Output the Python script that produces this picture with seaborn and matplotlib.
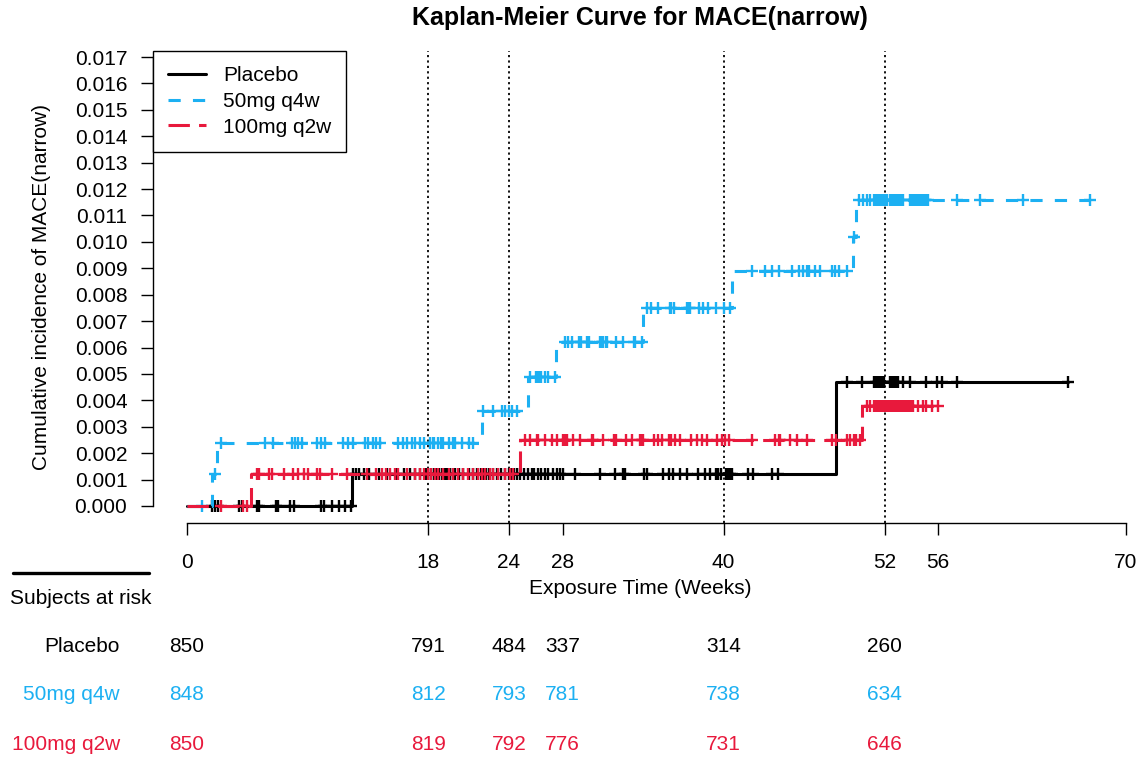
import numpy as np
import pandas as pd
import matplotlib
matplotlib.use("Agg")
import matplotlib.pyplot as plt
from matplotlib.lines import Line2D
import seaborn as sns

# ---------------- data ----------------
groups = ["Placebo", "50mg q4w", "100mg q2w"]

pbo_event_t = [12.3, 48.4]
pbo_level = [0.0012, 0.0047]
pbo_censor = [1.9, 2.1, 2.3, 3.9, 4.1, 5.2, 5.4, 6.6, 6.8, 7.7, 8.0, 10.0, 10.2, 10.8, 11.3, 11.8, 12.2,
              12.4, 12.6, 12.8, 13.2, 13.6, 14.3, 14.9, 15.6, 16.2, 16.6, 17.0, 17.4, 17.8, 18.0, 18.2,
              18.4, 18.6, 18.8, 19.0, 19.2, 19.4, 19.6, 19.8, 20.0, 20.3, 20.6, 21.0, 21.3, 21.6, 21.9,
              22.1, 22.3, 22.5, 22.8, 23.1, 23.4, 23.7, 24.0, 24.2, 24.4, 24.6, 24.8, 25.1, 25.4, 25.7,
              25.9, 26.2, 26.4, 26.7, 26.9, 27.3, 27.6, 27.8, 28.05, 28.9, 30.8, 31.9, 32.5, 32.65,
              34.1, 34.3, 35.5, 35.9, 36.25, 36.75, 37.25, 38.1, 38.6, 39.0, 39.4, 39.6, 39.8, 40.2,
              40.35, 40.5, 40.65, 41.8, 42.2, 43.6, 44.05,
              49.2, 50.3, 51.2, 51.35, 51.5, 51.65, 51.8, 51.95, 52.4, 52.55, 52.7, 52.85, 53.0,
              53.4, 53.9, 55.1, 55.9, 56.25, 57.4, 65.7]

q4w_event_t = [1.9, 2.25, 22.0, 25.4, 27.5, 34.0, 40.6, 49.65, 49.9]
q4w_level = [0.0012, 0.0024, 0.0036, 0.0049, 0.0062, 0.0075, 0.0089, 0.0102, 0.0116]
q4w_censor = [1.1, 2.1, 2.5, 5.8, 6.4, 7.8, 8.05, 8.3, 8.55, 9.7, 10.0, 10.3, 11.65, 12.0, 12.4,
              13.3, 13.5, 13.9, 14.1, 14.4, 15.75, 16.1, 16.4, 16.75, 17.0, 17.4, 17.7, 18.1, 18.3,
              18.4, 18.7, 18.9, 19.1, 19.5, 19.85, 20.0, 20.5, 21.0, 21.3, 22.1, 22.8, 23.5, 23.7,
              24.0, 24.2, 24.6, 25.6, 26.0, 26.1, 26.2, 26.3, 26.4, 26.7, 26.9, 27.4, 28.2, 28.4,
              28.7, 29.2, 29.3, 29.4, 29.8, 30.0, 30.8, 30.9, 31.0, 31.2, 31.3, 32.0, 32.5, 33.3,
              33.4, 33.9, 34.3, 34.6, 35.1, 36.0, 36.1, 36.3, 37.25, 37.4, 37.5, 38.2, 38.5, 38.8,
              39.4, 40.0, 40.5, 42.1, 43.1, 43.6, 44.1, 45.1, 45.6, 45.9, 46.2, 46.4, 46.8, 47.2,
              48.1, 48.3, 48.6, 49.2, 49.75, 50.1, 50.4, 50.7, 50.9, 51.2, 51.3, 51.4, 51.5, 51.6,
              51.7, 51.8, 51.9, 52.0, 52.1, 52.2, 52.4, 52.5, 52.6, 52.7, 52.8, 52.9, 53.0, 53.1,
              53.2, 53.4, 53.9, 54.0, 54.1, 54.2, 54.3, 54.4, 54.5, 54.6, 54.7, 54.8, 54.9, 55.0,
              55.1, 55.2, 57.4, 59.1, 62.3, 67.3]

q2w_event_t = [4.8, 24.85, 50.3]
q2w_level = [0.0012, 0.0025, 0.0038]
q2w_censor = [2.5, 4.2, 4.45, 5.2, 5.4, 6.1, 6.3, 7.2, 7.9, 8.3, 8.7, 9.0, 9.7, 9.9, 10.8, 11.9,
              13.4, 14.1, 14.5, 14.8, 15.1, 15.5, 15.75, 16.4, 17.0, 17.4, 17.7, 18.0, 18.2, 18.5,
              18.7, 19.1, 19.5, 19.85, 20.2, 20.6, 20.95, 21.3, 21.7, 21.97, 22.2, 22.6, 22.8, 23.2,
              23.7, 24.1, 24.3, 25.2, 25.6, 26.1, 26.2, 26.7, 27.2, 27.55, 28.05, 28.2, 28.3, 28.8,
              29.3, 30.2, 30.3, 31.0, 31.8, 32.0, 32.7, 33.2, 33.8, 33.9, 34.0, 34.8, 35.1, 35.4,
              35.9, 36.1, 36.4, 36.75, 37.6, 38.0, 38.4, 38.75, 39.5, 39.9, 40.1, 40.4, 42.1, 43.8,
              44.1, 44.2, 44.95, 45.5, 46.2, 48.1, 48.4, 49.2, 49.4, 49.7, 49.9, 50.15, 50.7, 50.9,
              51.2, 51.3, 51.4, 51.5, 51.6, 51.7, 51.8, 51.9, 52.0, 52.1, 52.2, 52.3, 52.4, 52.5,
              52.6, 52.7, 52.8, 52.9, 53.0, 53.1, 53.2, 53.3, 53.4, 53.5, 53.6, 53.7, 53.8, 53.9,
              54.0, 54.1, 54.5, 54.9, 55.1, 55.5, 56.0]

risk_times = [0, 18, 24, 28, 40, 52]
pbo_risk = [850, 791, 484, 337, 314, 260]
q4w_risk = [848, 812, 793, 781, 738, 634]
q2w_risk = [850, 819, 792, 776, 731, 646]

x_ticks = [0, 18, 24, 28, 40, 52, 56, 70]
y_ticks = [0.000, 0.001, 0.002, 0.003, 0.004, 0.005, 0.006, 0.007, 0.008,
           0.009, 0.010, 0.011, 0.012, 0.013, 0.014, 0.015, 0.016, 0.017]
ref_lines = [18, 24, 40, 52]

# ---------------- styling ----------------
colors = ["#000000", "#1CB0F2", "#E8193C"]
styles = ["-", (0, (4, 4)), (0, (7, 3))]

sns.set_theme(style="white")
plt.rcParams["font.family"] = ["Liberation Sans", "DejaVu Sans"]
plt.rcParams["text.color"] = "black"
plt.rcParams["axes.labelcolor"] = "black"

W, H = 1139, 759
fig = plt.figure(figsize=(W / 100, H / 100), dpi=100)

ax_l, ax_r, ax_t, ax_b = 153, 1127, 51, 523
ax = fig.add_axes([ax_l / W, 1 - ax_b / H, (ax_r - ax_l) / W, (ax_b - ax_t) / H])

series = [(pbo_event_t, pbo_level, pbo_censor),
          (q4w_event_t, q4w_level, q4w_censor),
          (q2w_event_t, q2w_level, q2w_censor)]

for i, (g, (et, lv, cs)) in enumerate(zip(groups, series)):
    end = max(cs)
    xs = [0.0] + list(et) + [end]
    ys = [0.0] + list(lv) + [lv[-1]]
    df_line = pd.DataFrame({"t": xs, "inc": ys})
    sns.lineplot(data=df_line, x="t", y="inc", drawstyle="steps-post", estimator=None,
                 sort=False, color=colors[i], linewidth=2.2, linestyle=styles[i],
                 ax=ax, legend=False, zorder=3 + i)
    lv_arr = np.array([0.0] + list(lv))
    idx = np.searchsorted(np.array(et), np.array(cs), side="right")
    df_c = pd.DataFrame({"t": cs, "inc": lv_arr[idx]})
    sns.scatterplot(data=df_c, x="t", y="inc", marker="+", s=85, color=colors[i],
                    linewidth=1.7, ax=ax, legend=False, zorder=3 + i)

for r in ref_lines:
    ax.axvline(r, color="black", lw=1.3, linestyle=(0, (1.2, 1.8)), zorder=2)

ax.set_xlim(-2.535, 70.07)
ax.set_ylim(-0.000644, 0.017228)
ax.set_xticks(x_ticks)
ax.set_xticklabels([str(v) for v in x_ticks])
ax.set_yticks(y_ticks)
ax.set_yticklabels([f"{v:.3f}" for v in y_ticks])

for s in ["top", "right"]:
    ax.spines[s].set_visible(False)
ax.spines["left"].set_bounds(0, 0.017)
ax.spines["bottom"].set_bounds(0, 70)
for s in ["left", "bottom"]:
    ax.spines[s].set_color("black")
    ax.spines[s].set_linewidth(1.0)

ax.tick_params(axis="both", direction="out", length=8.5, width=1.0, color="black",
               labelsize=15, labelcolor="black")
ax.tick_params(axis="y", pad=10, left=True)
ax.tick_params(axis="x", pad=13, bottom=True)
ax.grid(False)

ax.set_xlabel("Exposure Time (Weeks)", fontsize=15, color="black")
ax.xaxis.set_label_coords(0.5, (ax_b - 588) / (ax_b - ax_t))
ax.xaxis.label.set_va("center")
ax.set_ylabel("Cumulative incidence of MACE(narrow)", fontsize=15, color="black")
ax.yaxis.set_label_coords((42 - ax_l) / (ax_r - ax_l), 0.5)
ax.yaxis.label.set_va("center")

ax.text(0.5, (ax_b - 18) / (ax_b - ax_t), "Kaplan-Meier Curve for MACE(narrow)",
        transform=ax.transAxes, ha="center", va="center", fontsize=18, fontweight="bold",
        color="black")

handles = [Line2D([0], [0], color=colors[i], lw=2.2, linestyle=styles[i]) for i in range(3)]
leg = ax.legend(handles, groups, loc="upper left", bbox_to_anchor=(0, 1), borderaxespad=0,
                frameon=True, fancybox=False, framealpha=1, edgecolor="black", fontsize=15,
                handlelength=1.8, handletextpad=0.85, borderpad=0.72, labelspacing=0.33)
leg.get_frame().set_linewidth(1.0)
for t in leg.get_texts():
    t.set_color("black")

# ---------------- risk table ----------------
fig.add_artist(Line2D([13 / W, 149 / W], [1 - 573 / H, 1 - 573 / H], color="black", lw=2.4))
fig.text(10 / W, 1 - 598 / H, "Subjects at risk", ha="left", va="center", fontsize=15)

rows_y = [646, 695, 745]
risks = [pbo_risk, q4w_risk, q2w_risk]
for i, g in enumerate(groups):
    yf = 1 - rows_y[i] / H
    fig.text(120 / W, yf, g, ha="right", va="center", fontsize=15, color=colors[i])
    for t, n in zip(risk_times, risks[i]):
        ax.annotate(str(n), xy=(t, yf), xycoords=("data", "figure fraction"), ha="center",
                    va="center", fontsize=15, color=colors[i], annotation_clip=False)

fig.savefig("out.png", dpi=100)
